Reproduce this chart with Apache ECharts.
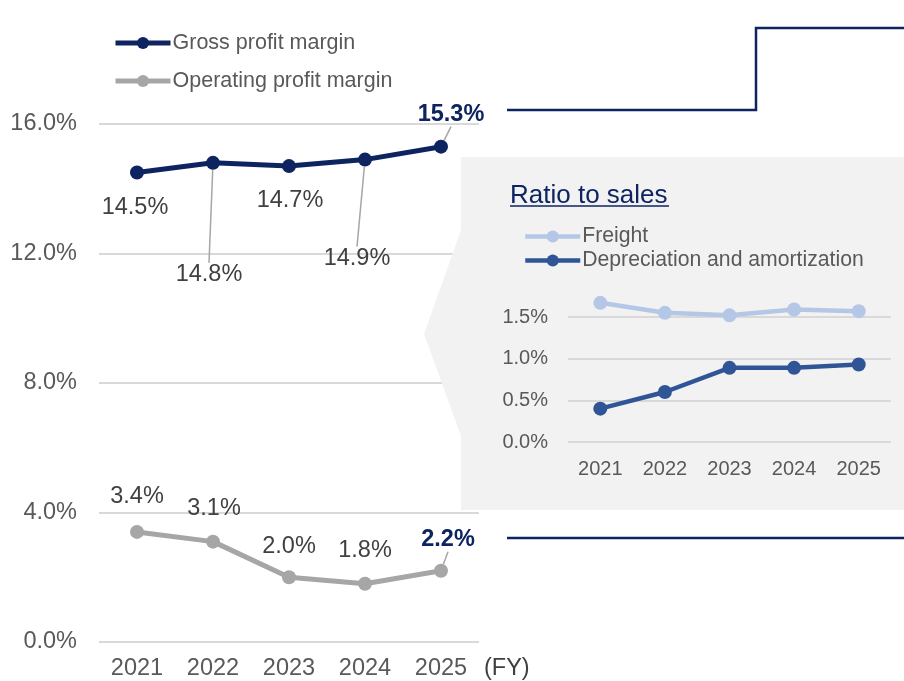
<!DOCTYPE html>
<html>
<head>
<meta charset="utf-8">
<script src="https://cdn.jsdelivr.net/npm/echarts@6/dist/echarts.min.js"></script>
<style>
  html, body { margin: 0; padding: 0; background: #fff; }
  #chart { width: 904px; height: 681px; }
</style>
</head>
<body>
<div id="chart"></div>
<script>
// data
var years = ['2021', '2022', '2023', '2024', '2025']
var grossMargin = [14.5, 14.8, 14.7, 14.9, 15.3]
var operatingMargin = [3.4, 3.1, 2.0, 1.8, 2.2]
var freightRatio = [1.67, 1.55, 1.52, 1.59, 1.57]
var deprRatio = [0.40, 0.60, 0.89, 0.89, 0.93]

var NAVY = '#0d2461'
var GREY = '#a6a6a6'
var TXT = '#404040'
var FONT = '"Liberation Sans", Arial, sans-serif'

// where each value label sits relative to its point (px)
var grossShift = [[-2, 35], [-4, 112], [1, 34], [-8, 99], [10, -32]]
var opShift = [[0, -35], [1, -33], [0, -31], [0, -33], [7, -31]]
var grossLines = [false, true, false, true, true]
var opLines = [false, false, false, false, true]

function labelData(values, lines) {
  return values.map(function(v, i) {
    var last = i === values.length - 1
    return {
      value: v,
      label: last ? { color: NAVY, fontWeight: 'bold' } : {},
      labelLine: { show: lines[i] }
    }
  })
}

var chart = echarts.init(document.getElementById('chart'))

chart.setOption({
  animation: false,
  textStyle: { fontFamily: FONT },
  title: {
    text: 'Ratio to sales',
    left: 505,
    top: 178,
    textStyle: { color: NAVY, fontSize: 26, fontWeight: 'normal', fontFamily: FONT }
  },
  legend: [{
    data: ['Gross profit margin', 'Operating profit margin'],
    orient: 'vertical',
    left: 108,
    top: 27,
    itemWidth: 55,
    itemHeight: 15,
    itemGap: 16,
    lineStyle: { width: 5 },
    textStyle: { color: '#595959', fontSize: 21.5, padding: [0, 0, 0, -3] }
  }, {
    data: ['Freight', 'Depreciation and amortization'],
    orient: 'vertical',
    left: 518,
    top: 221,
    itemWidth: 55,
    itemHeight: 15,
    itemGap: 3,
    lineStyle: { width: 4.5 },
    textStyle: { color: '#595959', fontSize: 21.2, padding: [0, 0, 0, -3] }
  }],
  graphic: [{
    type: 'polygon',
    z: 1,
    shape: { points: [[461, 157], [904, 157], [904, 510], [461, 510], [461, 436], [424, 334], [461, 230]] },
    style: { fill: '#f2f2f2' }
  }, {
    type: 'polyline',
    z: 1,
    shape: { points: [[507, 110], [756, 110], [756, 28], [904, 28]] },
    style: { stroke: NAVY, lineWidth: 2.5, fill: null }
  }, {
    type: 'line',
    z: 1,
    shape: { x1: 507, y1: 538, x2: 904, y2: 538 },
    style: { stroke: NAVY, lineWidth: 2.5 }
  }, {
    type: 'line',
    z: 5,
    shape: { x1: 510, y1: 206, x2: 669, y2: 206 },
    style: { stroke: NAVY, lineWidth: 1.5 }
  }],
  grid: [
    { left: 99, right: 425, top: 124, bottom: 39 },
    { left: 568, right: 13, top: 317, bottom: 239 }
  ],
  xAxis: [{
    type: 'category',
    gridIndex: 0,
    data: years,
    name: '(FY)',
    nameLocation: 'end',
    nameGap: 5,
    nameTextStyle: { color: TXT, fontSize: 23.5, verticalAlign: 'top', padding: [15, 0, 0, 0] },
    axisLine: { show: false },
    axisTick: { show: false },
    axisLabel: { color: '#595959', fontSize: 23.5, margin: 15 }
  }, {
    type: 'category',
    gridIndex: 1,
    data: years,
    z: 3,
    axisLine: { show: false },
    axisTick: { show: false },
    axisLabel: { color: '#595959', fontSize: 20, margin: 17 }
  }],
  yAxis: [{
    type: 'value',
    gridIndex: 0,
    min: 0,
    max: 16,
    interval: 4,
    axisLabel: {
      color: '#595959', fontSize: 23.5, margin: 22,
      formatter: function(v) { return v.toFixed(1) + '%' }
    },
    splitLine: { lineStyle: { color: '#d9d9d9', width: 2 } }
  }, {
    type: 'value',
    gridIndex: 1,
    min: 0,
    max: 1.5,
    interval: 0.5,
    z: 3,
    axisLabel: {
      color: '#595959', fontSize: 20, margin: 20,
      formatter: function(v) { return v.toFixed(1) + '%' }
    },
    splitLine: { lineStyle: { color: '#d9d9d9', width: 2 } }
  }],
  series: [{
    name: 'Gross profit margin',
    type: 'line',
    xAxisIndex: 0,
    yAxisIndex: 0,
    data: labelData(grossMargin, grossLines),
    color: NAVY,
    symbol: 'circle',
    symbolSize: 14,
    lineStyle: { width: 5, color: NAVY },
    itemStyle: { color: NAVY },
    label: { show: true, position: 'inside', color: TXT, fontSize: 23.5, formatter: '{c}%' },
    labelLine: { lineStyle: { color: GREY, width: 1.5 } },
    labelLayout: function(p) { return { dx: grossShift[p.dataIndex][0], dy: grossShift[p.dataIndex][1] } }
  }, {
    name: 'Operating profit margin',
    type: 'line',
    xAxisIndex: 0,
    yAxisIndex: 0,
    data: labelData(operatingMargin, opLines),
    color: GREY,
    symbol: 'circle',
    symbolSize: 14,
    lineStyle: { width: 5, color: GREY },
    itemStyle: { color: GREY },
    label: {
      show: true, position: 'inside', color: TXT, fontSize: 23.5,
      formatter: function(p) { return p.value.toFixed(1) + '%' }
    },
    labelLine: { lineStyle: { color: GREY, width: 1.5 } },
    labelLayout: function(p) { return { dx: opShift[p.dataIndex][0], dy: opShift[p.dataIndex][1] } }
  }, {
    name: 'Freight',
    type: 'line',
    xAxisIndex: 1,
    yAxisIndex: 1,
    z: 4,
    clip: false,
    data: freightRatio,
    color: '#b4c7e7',
    symbol: 'circle',
    symbolSize: 14,
    lineStyle: { width: 4.5, color: '#b4c7e7' },
    itemStyle: { color: '#b4c7e7' }
  }, {
    name: 'Depreciation and amortization',
    type: 'line',
    xAxisIndex: 1,
    yAxisIndex: 1,
    z: 4,
    clip: false,
    data: deprRatio,
    color: '#2f5597',
    symbol: 'circle',
    symbolSize: 14,
    lineStyle: { width: 4.5, color: '#2f5597' },
    itemStyle: { color: '#2f5597' }
  }]
})
</script>
</body>
</html>
